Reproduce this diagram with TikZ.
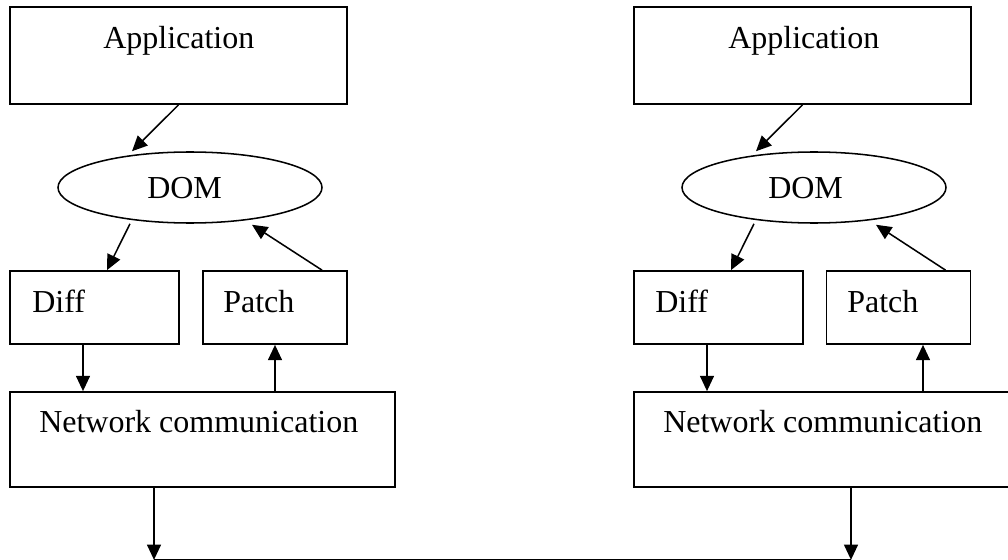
\documentclass[tikz,border=0pt]{standalone}
\usepackage{fontspec}
\setmainfont{Liberation Serif}
\usetikzlibrary{arrows.meta,calc,shapes.geometric}

\tikzset{
  box/.style={draw, rectangle, line width=1.3pt, inner sep=0pt},
  oval/.style={draw, ellipse, line width=1.15pt, inner sep=0pt,
    minimum width=198pt, minimum height=53.25pt},
  lbl/.style={anchor=base west, inner sep=0pt,
    font=\fontsize{24pt}{28pt}\selectfont},
  arr/.style={line width=1.15pt, -{Triangle[length=11.5pt,width=10.5pt]}},
  bus/.style={line width=1.15pt},
  appbox/.style={box, minimum width=252.75pt, minimum height=72.75pt},
  diffbox/.style={box, minimum width=126.75pt, minimum height=54.75pt},
  patchbox/.style={box, minimum width=108pt, minimum height=54.75pt},
  netbox/.style={box, minimum width=288.75pt, minimum height=71.25pt}
}

\begin{document}
\begin{tikzpicture}[x=0.75pt, y=-0.75pt]
  \useasboundingbox (0,0) rectangle (1008,560);
  \fill[white] (0,0) rectangle (1008,560);
  \clip (0,0) rectangle (1008,560);

  % ---- left peer ----
  \node[appbox]   (Lapp)   at (178.5,55.5) {};
  \node[oval]     (Ldom)   at (190,187.5) {};
  \node[diffbox]  (Ldiff)  at (94.5,307.5) {};
  \node[patchbox] (Lpatch) at (275,307.5) {};
  \node[netbox]   (Lnet)   at (202.5,439.5) {};

  \node[lbl] (LappT)   at (103,48.5)  {Application};
  \node[lbl] (LdomT)   at (147,198.5) {DOM};
  \node[lbl] (LdiffT)  at (32,312.5)  {Diff};
  \node[lbl] (LpatchT) at (223,312.5) {Patch};
  \node[lbl] (LnetT)   at (39,432.5)  {Network communication};

  \draw[arr] (Lapp.south) -- ($(Ldom.north)+(-58,0)$);
  \draw[arr] ($(Ldom.south)+(-60,0)$) -- ($(Ldiff.north)+(12.5,0)$);
  \draw[arr] ($(Lpatch.north)+(47,0)$) -- ($(Ldom.south)+(62,1)$);
  \draw[arr] ($(Ldiff.south)+(-11.5,0)$) -- ($(Lnet.north)+(-119.5,0)$);
  \draw[arr] (Lpatch.south |- Lnet.north) -- (Lpatch.south);
  \coordinate (Lbus) at ($(Lnet.south)+(-48.5,72)$);
  \draw[arr] ($(Lnet.south)+(-48.5,0)$) -- (Lbus);

  % ---- right peer ----
  \node[appbox]   (Rapp)   at (802.5,55.5) {};
  \node[oval]     (Rdom)   at (814,187.5) {};
  \node[diffbox]  (Rdiff)  at (718.5,307.5) {};
  \node[patchbox] (Rpatch) at (898.5,307.5) {};
  \node[netbox]   (Rnet)   at (826.5,439.5) {};

  \node[lbl] (RappT)   at (728,48.5)  {Application};
  \node[lbl] (RdomT)   at (768,198.5) {DOM};
  \node[lbl] (RdiffT)  at (655,312.5) {Diff};
  \node[lbl] (RpatchT) at (847,312.5) {Patch};
  \node[lbl] (RnetT)   at (663,432.5) {Network communication};

  \draw[arr] (Rapp.south) -- ($(Rdom.north)+(-58,0)$);
  \draw[arr] ($(Rdom.south)+(-60,0)$) -- ($(Rdiff.north)+(12.5,0)$);
  \draw[arr] ($(Rpatch.north)+(47,0)$) -- ($(Rdom.south)+(62,1)$);
  \draw[arr] ($(Rdiff.south)+(-11.5,0)$) -- ($(Rnet.north)+(-119.5,0)$);
  \draw[arr] ($(Rnet.north)+(96.5,0)$) -- ($(Rpatch.south)+(24.5,0)$);
  \coordinate (Rbus) at ($(Rnet.south)+(24.5,72)$);
  \draw[arr] ($(Rnet.south)+(24.5,0)$) -- (Rbus);

  % ---- link between the two peers ----
  \draw[bus] (Lbus) -- (Rbus);
\end{tikzpicture}
\end{document}
